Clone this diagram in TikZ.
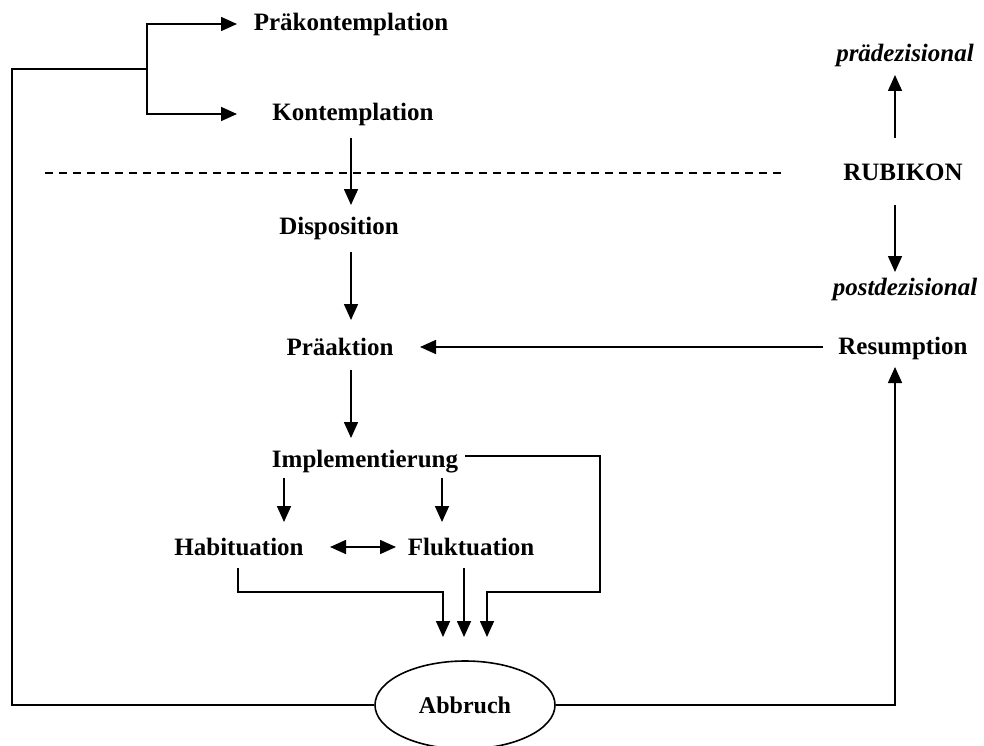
\documentclass[tikz,border=0pt]{standalone}
\usepackage{fontspec}
\setmainfont{Liberation Serif}
\usetikzlibrary{arrows.meta,shapes.geometric}
\begin{document}
\begin{tikzpicture}[x=1pt,y=-1pt,
  lbl/.style={font=\fontsize{25}{29}\selectfont\bfseries, inner sep=1pt},
  ilbl/.style={font=\fontsize{25}{29}\selectfont\bfseries\itshape, inner sep=1pt},
  conn/.style={line width=1.6pt},
  arr/.style={conn,-{Triangle[length=16pt,width=14pt]}},
  darr/.style={conn,{Triangle[length=16pt,width=14pt]}-{Triangle[length=16pt,width=14pt]}}]
\useasboundingbox (0,0) rectangle (984,746);
\fill[white] (0,0) rectangle (984,746);
% nodes
\node[lbl] (prae) at (351,24) {Präkontemplation};
\node[lbl] (kont) at (353,114) {Kontemplation};
\node[lbl] (disp) at (339,228) {Disposition};
\node[lbl] (praeak) at (340,347) {Präaktion};
\node[lbl] (impl) at (365,462) {Implementierung};
\node[lbl] (habit) at (239,547) {Habituation};
\node[lbl] (flukt) at (471,547) {Fluktuation};
\node[lbl] (resum) at (903,348) {Resumption};
\node[lbl] (rubi) at (903,172) {RUBIKON};
\node[ilbl] (praed) at (905,55) {prädezisional};
\node[ilbl] (postd) at (905,289) {postdezisional};
\node[draw, conn, ellipse, minimum width=180pt, minimum height=88pt, font=\fontsize{24}{28}\selectfont\bfseries] (abb) at (465,705) {Abbruch};
% coordinates
\coordinate (bl) at (12,705);
\coordinate (tl) at (12,69);
\coordinate (br) at (147,69);
\coordinate (p1) at (237,24);
\coordinate (k1) at (237,114);
% branch to top
\draw[conn] (abb.west) -- (bl) -- (tl) -- (br);
\draw[arr] (br) |- (p1);
\draw[arr] (br) |- (k1);
% dashed line
\draw[line width=1.6pt, dash pattern=on 8pt off 6pt] (45,173) -- (785,173);
% main chain
\draw[arr] (351,138) -- (351,205);
\draw[arr] (351,252) -- (351,320);
\draw[arr] (351,370) -- (351,438);
\draw[arr] (284,478) -- (284,522);
\draw[arr] (442,478) -- (442,522);
\draw[darr] (330,547) -- (396,547);
% to Abbruch
\draw[arr] (238,568) -- (238,592) -- (443,592) -- (443,637);
\draw[arr] (464,568) -- (464,637);
\draw[arr] (465,456) -- (600,456) -- (600,592) -- (487,592) -- (487,637);
% right side
\draw[arr] (abb.east) -- (895,705) -- (895,367);
\draw[arr] (823,347) -- (420,347);
\draw[arr] (895,138) -- (895,75);
\draw[arr] (895,205) -- (895,272);
\end{tikzpicture}
\end{document}
